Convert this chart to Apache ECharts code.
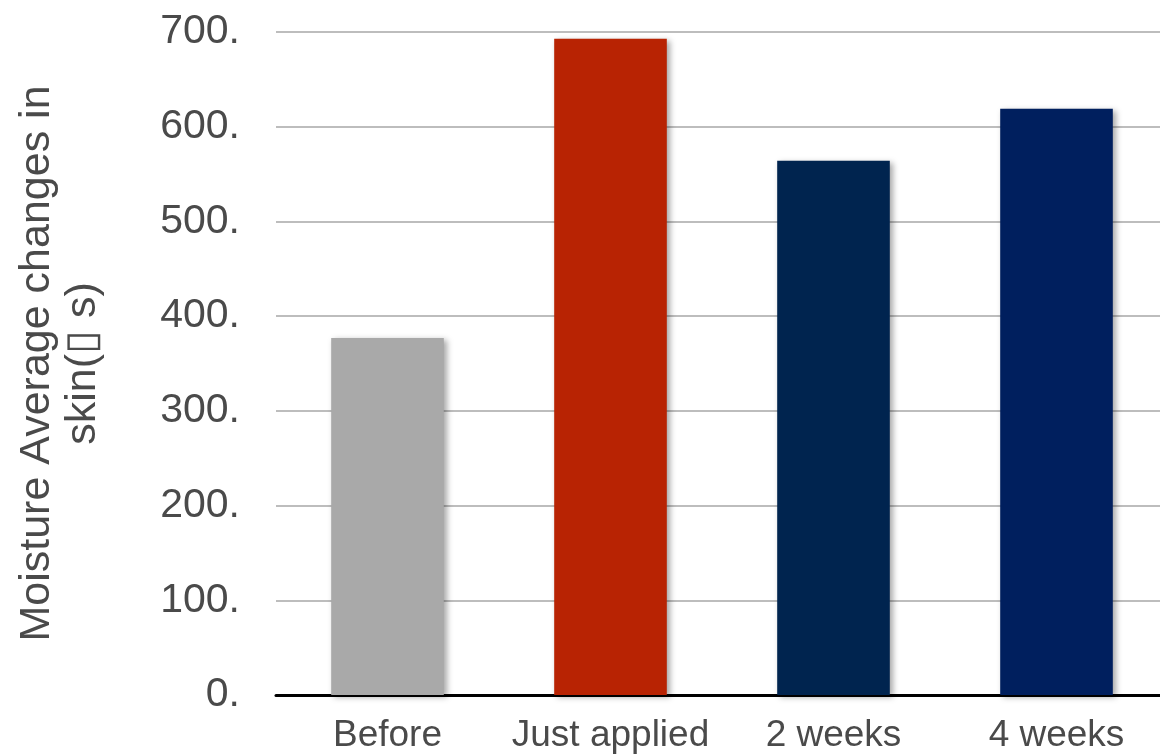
<!DOCTYPE html>
<html>
<head>
<meta charset="utf-8">
<script src="https://cdn.jsdelivr.net/npm/echarts@6/dist/echarts.min.js"></script>
<style>
  html, body { margin: 0; padding: 0; background: #fff; }
  #chart { width: 1160px; height: 755px; }
</style>
</head>
<body>
<div id="chart"></div>
<script>
// Average skin moisture at each measurement stage
const categories = ['Before', 'Just applied', '2 weeks', '4 weeks'];
const moistureValues = [377, 693, 564, 619];
const barColors = ['#a9a9a9', '#b82303', '#00244f', '#001f5e'];
const yTicks = { min: 0, max: 700, interval: 100 };
const yAxisTitle = 'Moisture Average changes in\nskin(\u25AF s)';

const chart = echarts.init(document.getElementById('chart'), null, { renderer: 'canvas' });

chart.setOption({
  animation: false,
  backgroundColor: '#ffffff',
  grid: {
    left: 276, top: 32, width: 892, bottom: 60,
    containLabel: false,
    outerBoundsMode: 'none'
  },
  xAxis: {
    type: 'category',
    data: categories,
    axisLine: { show: true, lineStyle: { color: '#000', width: 3 } },
    axisTick: { show: false },
    axisLabel: {
      interval: 0,
      hideOverlap: false,
      margin: 22,
      fontFamily: 'Liberation Sans, Arial, sans-serif',
      fontSize: 37,
      color: '#4a4a4a'
    }
  },
  yAxis: {
    type: 'value',
    min: yTicks.min,
    max: yTicks.max,
    interval: yTicks.interval,
    name: yAxisTitle,
    nameLocation: 'middle',
    nameRotate: 90,
    nameGap: 170,
    nameTextStyle: {
      fontFamily: 'Liberation Sans, Arial, sans-serif',
      fontSize: 43,
      lineHeight: 46,
      color: '#4a4a4a',
      align: 'center'
    },
    axisLine: { show: false },
    axisTick: { show: false },
    axisLabel: {
      margin: 36,
      formatter: v => v + '.',
      fontFamily: 'Liberation Sans, Arial, sans-serif',
      fontSize: 41,
      color: '#4a4a4a'
    },
    splitLine: { show: true, lineStyle: { color: '#bdbdbd', width: 2 } }
  },
  series: [{
    type: 'bar',
    barWidth: '50.5%',
    data: moistureValues.map((v, i) => ({
      value: v,
      itemStyle: {
        color: barColors[i],
        shadowColor: 'rgba(0,0,0,0.35)',
        shadowBlur: 6,
        shadowOffsetX: 3,
        shadowOffsetY: 2
      }
    }))
  }]
});
</script>
</body>
</html>
